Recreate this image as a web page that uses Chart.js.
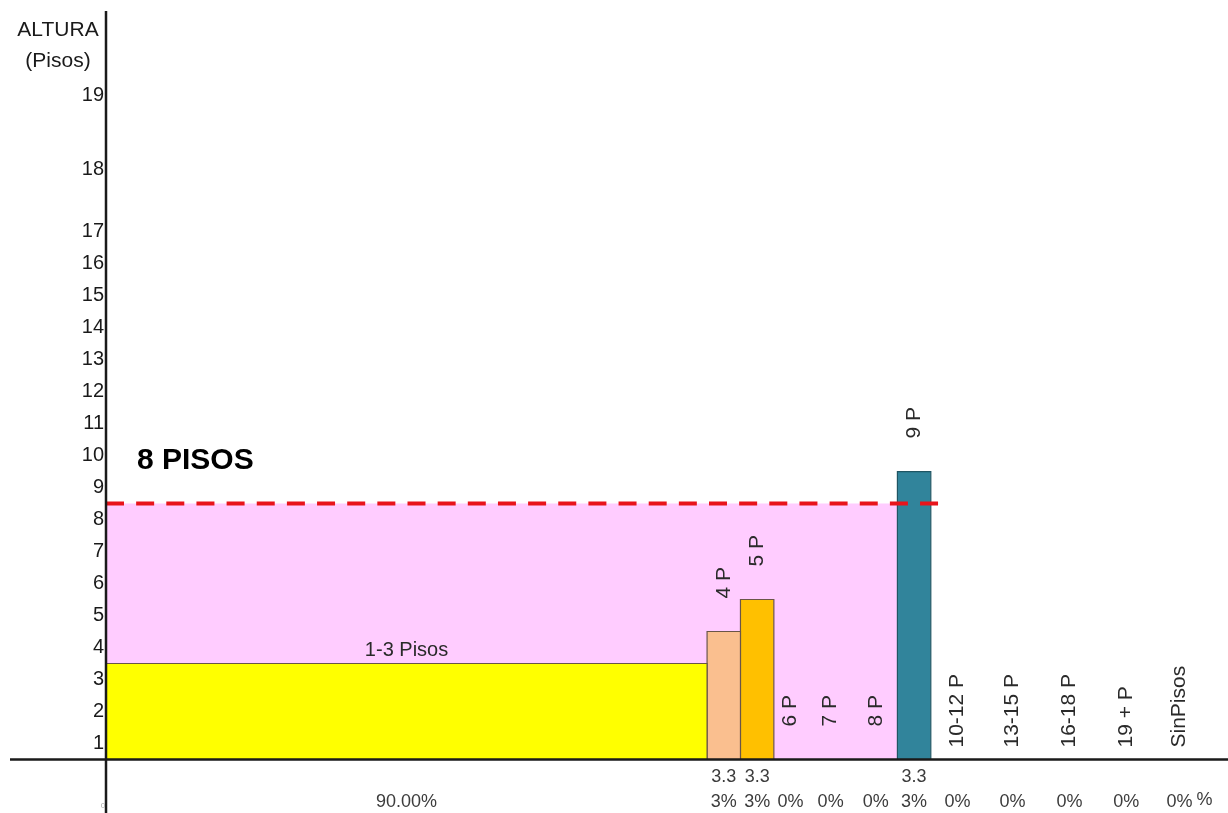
<!DOCTYPE html>
<html>
<head>
<meta charset="utf-8">
<script src="https://cdn.jsdelivr.net/npm/chart.js@4"></script>
<style>
  html, body { margin: 0; padding: 0; background: #fff; }
  #wrap { width: 1228px; height: 813px; }
</style>
</head>
<body>
<div id="wrap"><canvas id="alturaChart"></canvas></div>
<script>
const categories = ["1-3 Pisos", "4 P", "5 P", "6 P", "7 P", "8 P", "9 P", "10-12 P", "13-15 P", "16-18 P", "19 + P", "SinPisos"];
const floors = [3, 4, 5, 6, 7, 8, 9, 12, 15, 18, 19, 0];
const shares = [90, 3.33, 3.33, 0, 0, 0, 3.33, 0, 0, 0, 0, 0];
const shareLabels = [
  ["", "90.00%"], ["3.3", "3%"], ["3.3", "3%"], ["", "0%"], ["", "0%"], ["", "0%"],
  ["3.3", "3%"], ["", "0%"], ["", "0%"], ["", "0%"], ["", "0%"], ["", "0%"],
];
const limitFloors = 8;
const limitLabel = "8 PISOS";
const yTickLabels = ["1", "2", "3", "4", "5", "6", "7", "8", "9", "10", "11", "12", "13", "14", "15", "16", "17", "18", "19"];
const yTickValues = [0.5, 1.5, 2.5, 3.5, 4.5, 5.5, 6.5, 7.5, 8.5, 9.5, 10.5, 11.5, 12.5, 13.5, 14.5, 15.5, 16.5, 18.45, 20.75];

// column widths along the x axis (axis units), colours per column
const colWidth = [90, 5, 5, 5, 7, 6.5, 5, 8, 8.5, 8.5, 8.5, 7.5];
const barFill = ["#FFFF00", "#FABF8F", "#FFC000", "", "", "", "#31849B", "", "", "", "", ""];
const barEdge = ["#6a5548", "#6a5548", "#6a5548", "", "", "", "#1f5563", "", "", "", "", ""];

const FONT = "'Liberation Sans', Arial, sans-serif";

const edges = [0];
colWidth.forEach((w, i) => edges.push(edges[i] + w));
const centers = colWidth.map((w, i) => edges[i] + w / 2);
const bandEnd = edges[floors.findIndex((f) => f > limitFloors)];

const datasets = [];

// dashed limit line on top
datasets.push({
  data: [{ x: 0, y: limitFloors }, { x: edges[7] + 1.3, y: limitFloors }],
  borderColor: "#E8141B",
  borderWidth: 4,
  borderDash: [18, 12.15],
  fill: false,
  order: 1,
});

categories.forEach((c, i) => {
  if (shares[i] <= 0) return;
  datasets.push({
    data: [
      { x: edges[i], y: 0 },
      { x: edges[i], y: floors[i] },
      { x: edges[i + 1], y: floors[i] },
      { x: edges[i + 1], y: 0 },
    ],
    backgroundColor: barFill[i],
    borderColor: barEdge[i],
    borderWidth: 1.2,
    fill: "origin",
    order: 2,
  });
});

// pink band up to the limit
datasets.push({
  data: [{ x: 0, y: limitFloors }, { x: bandEnd, y: limitFloors }],
  backgroundColor: "#FFCCFF",
  borderWidth: 0,
  fill: "origin",
  order: 3,
});

const textPlugin = {
  id: "textPlugin",
  afterDraw(chart) {
    const { ctx, scales } = chart;
    const x = scales.x;
    const y = scales.y;
    const x0 = x.getPixelForValue(0);
    const y0 = y.getPixelForValue(0);
    ctx.save();

    // axes crossing
    ctx.strokeStyle = "#1a1a1a";
    ctx.lineWidth = 2.5;
    ctx.beginPath();
    ctx.moveTo(x0, 11);
    ctx.lineTo(x0, chart.height);
    ctx.moveTo(10, y0);
    ctx.lineTo(chart.width, y0);
    ctx.stroke();

    ctx.fillStyle = "#1a1a1a";
    ctx.font = "21px " + FONT;
    ctx.textAlign = "center";
    ctx.textBaseline = "middle";
    ctx.fillText("ALTURA", x0 - 48, 30);
    ctx.fillText("(Pisos)", x0 - 48, 61);

    ctx.fillStyle = "#000";
    ctx.font = "bold 30px " + FONT;
    ctx.textAlign = "left";
    ctx.fillText(limitLabel, x0 + 31, y.getPixelForValue(limitFloors) - 43);

    ctx.fillStyle = "#2a2a2a";
    ctx.font = "20px " + FONT;
    ctx.textAlign = "center";
    ctx.fillText(categories[0], x.getPixelForValue(centers[0]), y.getPixelForValue(floors[0]) - 13);

    ctx.font = "21px " + FONT;
    ctx.textAlign = "left";
    for (let i = 1; i < categories.length; i++) {
      const base = y.getPixelForValue(shares[i] > 0 ? floors[i] : 0);
      const gap = shares[i] > 0 || edges[i] < bandEnd ? 33 : 12;
      ctx.save();
      ctx.translate(x.getPixelForValue(centers[i]), base - gap);
      ctx.rotate(-Math.PI / 2);
      ctx.fillText(categories[i], 0, 0);
      ctx.restore();
    }

    ctx.fillStyle = "#3c3c3c";
    ctx.font = "18px " + FONT;
    ctx.textAlign = "center";
    ctx.fillText("%", x.getPixelForValue(edges[edges.length - 1]), 800);

    ctx.fillStyle = "#aaa";
    ctx.font = "8px " + FONT;
    ctx.fillText("0", x0 - 3, 806);
    ctx.restore();
  },
};

new Chart(document.getElementById("alturaChart"), {
  type: "line",
  data: { datasets },
  options: {
    responsive: true,
    maintainAspectRatio: false,
    animation: false,
    events: [],
    layout: { padding: { top: 10, left: 0, right: 0, bottom: 0 } },
    elements: {
      point: { radius: 0, hoverRadius: 0 },
      line: { tension: 0, borderJoinStyle: "miter" },
    },
    plugins: {
      legend: { display: false },
      tooltip: { enabled: false },
    },
    scales: {
      x: {
        type: "linear",
        min: 0,
        max: 168,
        grid: { display: false, drawTicks: false },
        border: { display: false },
        afterBuildTicks: (scale) => {
          scale.ticks = centers.map((v) => ({ value: v }));
        },
        afterFit: (scale) => {
          scale.height = 53.5;
        },
        ticks: {
          autoSkip: false,
          maxRotation: 0,
          padding: 5,
          color: "#3c3c3c",
          font: { family: FONT, size: 18, lineHeight: 1.4 },
          callback: (v, i) => shareLabels[i],
        },
      },
      y: {
        type: "linear",
        min: 0,
        max: 23.3,
        grid: { display: false, drawTicks: false },
        border: { display: false },
        afterBuildTicks: (scale) => {
          scale.ticks = yTickValues.map((v) => ({ value: v }));
        },
        afterFit: (scale) => {
          scale.width = 106;
        },
        ticks: {
          autoSkip: false,
          padding: 2,
          color: "#1a1a1a",
          font: { family: FONT, size: 20 },
          callback: (v, i) => yTickLabels[i],
        },
      },
    },
  },
  plugins: [textPlugin],
});
</script>
</body>
</html>
